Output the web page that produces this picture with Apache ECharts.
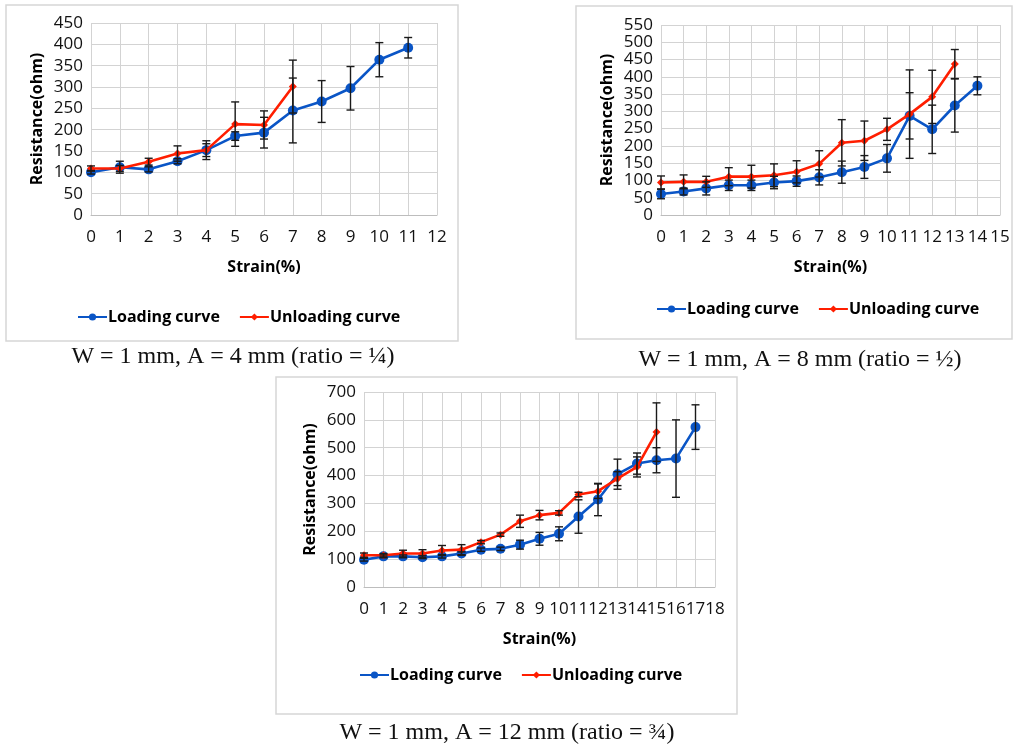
<!DOCTYPE html>
<html>
<head>
<meta charset="utf-8">
<script src="https://cdn.jsdelivr.net/npm/echarts@6/dist/echarts.min.js"></script>
<style>
html,body{margin:0;padding:0;background:#fff;}
#main{width:1014px;height:749px;}
</style>
</head>
<body>
<div id="main"></div>
<script>
// ---------- DATA ----------
// Panel 1: W = 1 mm, A = 4 mm
const strainLoad1 = [0, 1, 2, 3, 4, 5, 6, 7, 8, 9, 10, 11];
const load1 = [100, 112, 107, 126, 152, 185, 193, 245, 266, 297, 364, 392];
const loadErr1 = [4, 14, 6, 6, 22, 10, 36, 76, 49, 51, 40, 24];
const strainUnload1 = [0, 1, 2, 3, 4, 5, 6, 7];
const unload1 = [109, 109, 125, 144, 152, 213, 211, 301];
const unloadErr1 = [6, 7, 8, 18, 15, 52, 33, 62];

// Panel 2: W = 1 mm, A = 8 mm
const strainLoad2 = [0, 1, 2, 3, 4, 5, 6, 7, 8, 9, 10, 11, 12, 13, 14];
const load2 = [61, 68, 77, 86, 86, 94, 98, 109, 124, 139, 164, 287, 248, 317, 374];
const loadErr2 = [14, 10, 19, 15, 15, 18, 15, 22, 32, 33, 40, 67, 70, 77, 26];
const strainUnload2 = [0, 1, 2, 3, 4, 5, 6, 7, 8, 9, 10, 11, 12, 13];
const unload2 = [94, 96, 96, 111, 111, 115, 125, 148, 209, 215, 248, 292, 342, 437];
const unloadErr2 = [19, 20, 16, 26, 33, 33, 32, 38, 67, 57, 32, 128, 77, 42];

// Panel 3: W = 1 mm, A = 12 mm
const strainLoad3 = [0, 1, 2, 3, 4, 5, 6, 7, 8, 9, 10, 11, 12, 13, 14, 15, 16, 17];
const load3 = [98, 110, 110, 107, 110, 120, 134, 137, 152, 173, 191, 253, 314, 405, 443, 455, 461, 574];
const loadErr3 = [5, 5, 5, 5, 6, 6, 6, 6, 16, 23, 25, 60, 58, 54, 38, 45, 139, 80];
const strainUnload3 = [0, 1, 2, 3, 4, 5, 6, 7, 8, 9, 10, 11, 12, 13, 14, 15];
const unload3 = [114, 114, 120, 120, 131, 134, 161, 188, 236, 258, 266, 332, 344, 389, 431, 556];
const unloadErr3 = [8, 6, 12, 14, 18, 18, 6, 6, 22, 17, 8, 8, 26, 25, 36, 105];

const xMaxes = [12, 15, 18];
const yMaxes = [450, 550, 700];
const yIntervals = [50, 50, 100];
const captions = ['W = 1 mm, A = 4 mm (ratio = \u00BC)', 'W = 1 mm, A = 8 mm (ratio = \u00BD)', 'W = 1 mm, A = 12 mm (ratio = \u00BE)'];
const seriesNames = ['Loading curve', 'Unloading curve'];
const xTitle = 'Strain(%)';
const yTitle = 'Resistance(ohm)';

// ---------- LAYOUT ----------
const grids = [
  {left: 91, top: 23, width: 346, height: 192},
  {left: 661, top: 25, width: 339, height: 190},
  {left: 364, top: 392, width: 351, height: 195}
];
const panels = [
  {x: 6, y: 5, w: 452, h: 336},
  {x: 576, y: 6, w: 436, h: 333},
  {x: 276, y: 377, w: 461, h: 337}
];
const legendPos = [{left: 72, top: 304}, {left: 651, top: 296}, {left: 354, top: 662}];
const captionPos = [{x: 233, y: 357}, {x: 800, y: 360}, {x: 507, y: 733}];

const BLUE = '#0a55c6';
const RED = '#ff1e00';
const GRIDC = '#d3d3d3';
const UIFONT = '"Open Sans", "DejaVu Sans", sans-serif';

const data = [
  {sl: strainLoad1, l: load1, le: loadErr1, su: strainUnload1, u: unload1, ue: unloadErr1},
  {sl: strainLoad2, l: load2, le: loadErr2, su: strainUnload2, u: unload2, ue: unloadErr2},
  {sl: strainLoad3, l: load3, le: loadErr3, su: strainUnload3, u: unload3, ue: unloadErr3}
];

function errRender(params, api) {
  const x = api.value(0), lo = api.value(1), hi = api.value(2);
  const p1 = api.coord([x, hi]);
  const p2 = api.coord([x, lo]);
  const w = 4;
  const st = {stroke: '#1a1a1a', lineWidth: 1.4};
  return {
    type: 'group',
    children: [
      {type: 'line', shape: {x1: p1[0], y1: p1[1], x2: p2[0], y2: p2[1]}, style: st},
      {type: 'line', shape: {x1: p1[0] - w, y1: p1[1], x2: p1[0] + w, y2: p1[1]}, style: st},
      {type: 'line', shape: {x1: p2[0] - w, y1: p2[1], x2: p2[0] + w, y2: p2[1]}, style: st}
    ]
  };
}

const option = {
  animation: false,
  backgroundColor: '#fff',
  grid: grids.map(g => Object.assign({containLabel: false}, g)),
  xAxis: xMaxes.map((m, i) => ({
    type: 'value', gridIndex: i, min: 0, max: m, interval: 1,
    name: xTitle, nameLocation: 'middle', nameGap: 44,
    nameTextStyle: {fontFamily: UIFONT, fontWeight: 'bold', fontSize: 16, color: '#000'},
    axisLine: {show: true, lineStyle: {color: '#bdbdbd', width: 1}},
    axisTick: {show: false},
    axisLabel: {margin: 14, fontFamily: UIFONT, fontSize: 17, color: '#111'},
    splitLine: {show: true, lineStyle: {color: GRIDC, width: 1}}
  })),
  yAxis: yMaxes.map((m, i) => ({
    type: 'value', gridIndex: i, min: 0, max: m, interval: yIntervals[i],
    name: yTitle, nameLocation: 'middle', nameGap: 46, nameRotate: 90,
    nameTextStyle: {fontFamily: UIFONT, fontWeight: 'bold', fontSize: 16, color: '#000'},
    axisLine: {show: false},
    axisTick: {show: false},
    axisLabel: {margin: 8, fontFamily: UIFONT, fontSize: 17, color: '#111'},
    splitLine: {show: true, lineStyle: {color: GRIDC, width: 1}}
  })),
  legend: legendPos.map(p => ({
    left: p.left, top: p.top, data: seriesNames, itemWidth: 29, itemHeight: 9, itemGap: 19,
    selectedMode: false,
    textStyle: {fontFamily: UIFONT, fontWeight: 'bold', fontSize: 16, color: '#000', padding: [0, 0, 0, -4]}
  })),
  series: [],
  graphic: []
};

data.forEach((d, i) => {
  option.series.push({
    name: seriesNames[0], type: 'line', xAxisIndex: i, yAxisIndex: i,
    data: d.sl.map((x, k) => [x, d.l[k]]),
    symbol: 'circle', symbolSize: 10,
    lineStyle: {color: BLUE, width: 2.6}, itemStyle: {color: BLUE}, z: 3
  });
  option.series.push({
    name: seriesNames[1], type: 'line', xAxisIndex: i, yAxisIndex: i,
    data: d.su.map((x, k) => [x, d.u[k]]),
    symbol: 'diamond', symbolSize: 8,
    lineStyle: {color: RED, width: 2.6}, itemStyle: {color: RED}, z: 4
  });
  option.series.push({
    name: 'errLoad' + i, type: 'custom', xAxisIndex: i, yAxisIndex: i,
    renderItem: errRender, encode: {x: 0, y: [1, 2]},
    data: d.sl.map((x, k) => [x, d.l[k] - d.le[k], d.l[k] + d.le[k]]), z: 5, silent: true
  });
  option.series.push({
    name: 'errUnload' + i, type: 'custom', xAxisIndex: i, yAxisIndex: i,
    renderItem: errRender, encode: {x: 0, y: [1, 2]},
    data: d.su.map((x, k) => [x, d.u[k] - d.ue[k], d.u[k] + d.ue[k]]), z: 5, silent: true
  });
});

panels.forEach(p => {
  option.graphic.push({
    type: 'rect', shape: {x: p.x, y: p.y, width: p.w, height: p.h},
    style: {fill: 'none', stroke: '#d6d6d6', lineWidth: 1.5}, z: -10, silent: true
  });
});
captionPos.forEach((c, i) => {
  option.graphic.push({
    type: 'text', x: c.x, y: c.y,
    style: {text: captions[i], font: '24px "Liberation Serif", "DejaVu Serif", serif', fill: '#111',
      textAlign: 'center', textVerticalAlign: 'middle'}, silent: true
  });
});

const chart = echarts.init(document.getElementById('main'), null, {renderer: 'canvas'});
chart.setOption(option);
</script>
</body>
</html>
